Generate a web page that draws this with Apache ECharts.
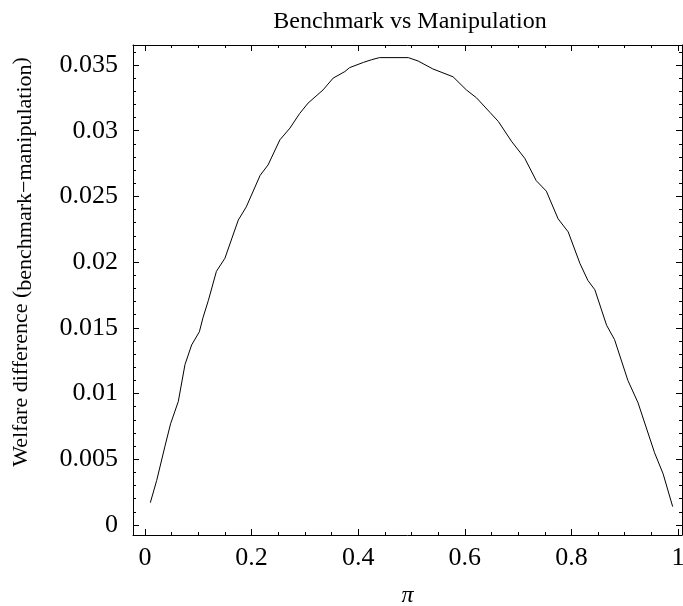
<!DOCTYPE html>
<html>
<head>
<meta charset="utf-8">
<script src="https://cdn.jsdelivr.net/npm/echarts@6/dist/echarts.min.js"></script>
<style>
  html, body { margin: 0; padding: 0; background: #fff; }
  #main { width: 683px; height: 606px; }
</style>
</head>
<body>
<div id="main"></div>
<script>
// values
var piValues = [0.01, 0.022, 0.0375, 0.048, 0.0625, 0.075, 0.0875, 0.102, 0.109, 0.119,
  0.134, 0.15, 0.175, 0.19, 0.216, 0.231, 0.253, 0.272, 0.29, 0.306,
  0.334, 0.353, 0.375, 0.384, 0.41, 0.425, 0.44, 0.494, 0.5125, 0.54,
  0.578, 0.603, 0.622, 0.647, 0.663, 0.6875, 0.7125, 0.734, 0.753, 0.775,
  0.794, 0.816, 0.831, 0.844, 0.866, 0.881, 0.906, 0.925, 0.956, 0.972, 0.99];
var welfareDiff = [0.0017, 0.0034, 0.0060, 0.0077, 0.0094, 0.0122, 0.0137, 0.0147, 0.0158, 0.0171,
  0.0193, 0.0203, 0.0232, 0.0242, 0.0266, 0.0274, 0.0293, 0.0302, 0.0313, 0.0321,
  0.0331, 0.0340, 0.0345, 0.0348, 0.0352, 0.0354, 0.03556, 0.03556, 0.0353, 0.0347,
  0.0341, 0.0331, 0.0325, 0.0314, 0.0307, 0.0292, 0.0279, 0.0262, 0.0254, 0.0233,
  0.0223, 0.0199, 0.0186, 0.0179, 0.0152, 0.0141, 0.0110, 0.0093, 0.0055, 0.0039, 0.0014];

var xMajor = [0, 0.2, 0.4, 0.6, 0.8, 1];
var xMinor = [0.05, 0.1, 0.15, 0.25, 0.3, 0.35, 0.45, 0.5, 0.55, 0.65, 0.7, 0.75, 0.85, 0.9, 0.95];
var yMajor = [0, 0.005, 0.01, 0.015, 0.02, 0.025, 0.03, 0.035];
var yMinor = [0.001, 0.002, 0.003, 0.004, 0.006, 0.007, 0.008, 0.009, 0.011, 0.012, 0.013, 0.014,
  0.016, 0.017, 0.018, 0.019, 0.021, 0.022, 0.023, 0.024, 0.026, 0.027, 0.028, 0.029,
  0.031, 0.032, 0.033, 0.034, 0.036];

var X_MIN = -0.0225, X_MAX = 1.0075;
var Y_MIN = -0.00076, Y_MAX = 0.03652;
var serif = 'Liberation Serif';

var points = piValues.map(function (p, i) { return [p, welfareDiff[i]]; });

function xAx(pos, ticks, len, showLine, labels) {
  return {
    type: 'value', position: pos, min: X_MIN, max: X_MAX,
    splitLine: { show: false },
    axisLine: { show: showLine, onZero: false, lineStyle: { color: '#000', width: 1 } },
    axisTick: { show: true, inside: true, length: len, customValues: ticks, lineStyle: { color: '#000' } },
    axisLabel: labels ? { show: true, customValues: xMajor, margin: 10, color: '#000',
      fontFamily: serif, fontSize: 26 } : { show: false }
  };
}
function yAx(pos, ticks, len, showLine, labels) {
  return {
    type: 'value', position: pos, min: Y_MIN, max: Y_MAX,
    splitLine: { show: false },
    axisLine: { show: showLine, onZero: false, lineStyle: { color: '#000', width: 1 } },
    axisTick: { show: true, inside: true, length: len, customValues: ticks, lineStyle: { color: '#000' } },
    axisLabel: labels ? { show: true, customValues: yMajor, margin: 15, color: '#000',
      fontFamily: serif, fontSize: 26 } : { show: false }
  };
}

var xAxes = [xAx('bottom', xMajor, 6, true, true), xAx('bottom', xMinor, 3, false, false),
  xAx('top', xMajor, 6, true, false), xAx('top', xMinor, 3, false, false)];
xAxes[0].name = 'π';
xAxes[0].nameLocation = 'middle';
xAxes[0].nameGap = 49;
xAxes[0].nameTextStyle = { fontFamily: serif, fontStyle: 'italic', fontSize: 24, color: '#000' };

var yAxes = [yAx('left', yMajor, 6, true, true), yAx('left', yMinor, 3, false, false),
  yAx('right', yMajor, 6, true, false), yAx('right', yMinor, 3, false, false)];
yAxes[0].name = '{a|Welfare difference (}{b|benchmark−manipulation}{a|)}';
yAxes[0].nameLocation = 'middle';
yAxes[0].nameRotate = 90;
yAxes[0].nameGap = 97;
yAxes[0].nameMoveOverlap = false;
yAxes[0].nameTextStyle = {
  color: '#000',
  padding: [0, 0, 0, 56],
  rich: {
    a: { fontFamily: serif, fontSize: 22, color: '#000' },
    b: { fontFamily: serif, fontSize: 22, color: '#000', padding: [8, 0, 0, 0] }
  }
};

echarts.init(document.getElementById('main')).setOption({
  animation: false,
  backgroundColor: '#fff',
  title: {
    text: 'Benchmark vs Manipulation',
    left: 405, top: 5, textAlign: 'center',
    textStyle: { fontFamily: serif, fontWeight: 'normal', fontSize: 24, color: '#000' }
  },
  grid: { left: 133, right: 1, top: 45, bottom: 71, containLabel: false, outerBoundsMode: 'none' },
  xAxis: xAxes,
  yAxis: yAxes,
  series: [{
    type: 'line',
    data: points,
    xAxisIndex: 0, yAxisIndex: 0,
    showSymbol: false,
    lineStyle: { color: '#000', width: 1 }
  }]
});
</script>
</body>
</html>
